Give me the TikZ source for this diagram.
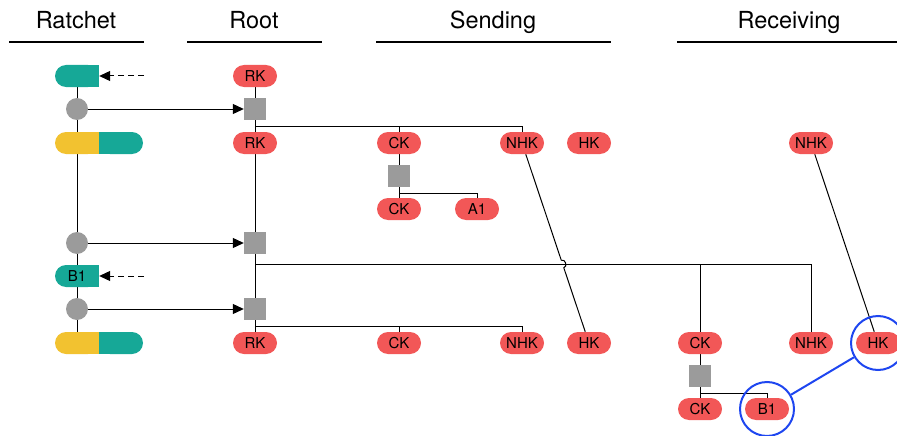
\documentclass[tikz,border=0pt]{standalone}
\usepackage{fontspec}
\setmainfont{TeX Gyre Heros}
\usetikzlibrary{arrows.meta,calc}
\pgfdeclarelayer{bg}
\pgfsetlayers{bg,main}
\definecolor{pillred}{HTML}{F25757}
\definecolor{tealc}{HTML}{16A897}
\definecolor{yellowc}{HTML}{F2C230}
\definecolor{grayc}{HTML}{9B9B9B}
\definecolor{bluec}{HTML}{1E46F0}
\begin{document}
\begin{tikzpicture}[x=1pt,y=-1pt,
  pill/.style={rectangle, rounded corners=11pt, minimum width=44pt, minimum height=22pt, inner sep=0pt, font=\fontsize{15}{15}\selectfont},
  key/.style={pill, fill=pillred},
  dot/.style={circle, fill=grayc, minimum size=22pt, inner sep=0pt},
  sqbox/.style={rectangle, fill=grayc, minimum size=22pt, inner sep=0pt},
  head/.style={font=\fontsize{23.5}{24}\selectfont, anchor=base, inner sep=0pt},
  rule/.style={line width=1.8pt},
  conn/.style={draw=black, line width=1pt},
  arr/.style={conn, -{Triangle[length=11pt,width=10pt]}},
  darr/.style={conn, dash pattern=on 6pt off 4pt, -{Triangle[length=11pt,width=10pt]}},
  bcirc/.style={circle, draw=bluec, line width=2pt, minimum size=54pt, inner sep=0pt},
  bline/.style={draw=bluec, line width=2pt}
]
\useasboundingbox (0,0) rectangle (897,436);

% headers
\node[head] (h1) at (76,29) {Ratchet};
\node[head] (h2) at (254,29) {Root};
\node[head] (h3) at (493,29) {Sending};
\node[head] (h4) at (789,29) {Receiving};
\draw[rule] (9,42) -- (144,42);
\draw[rule] (187,42) -- (322,42);
\draw[rule] (376,42) -- (611,42);
\draw[rule] (677,42) -- (897,42);

% ratchet column
\fill[tealc] (77,65) rectangle (99,87);
\node[pill, fill=tealc] (t1) at (77,76) {};
\node[dot] (c1) at (77,109) {};
\fill[yellowc] (77,132) rectangle (99,154);
\fill[tealc] (99,132) rectangle (121,154);
\node[pill, fill=yellowc] (y1) at (77,143) {};
\node[pill, fill=tealc] (y1b) at (121,143) {};
\node[dot] (c2) at (77,243) {};
\fill[tealc] (77,265) rectangle (99,287);
\node[pill, fill=tealc] (t2) at (77,276) {B1};
\node[dot] (c3) at (77,309) {};
\fill[yellowc] (77,332) rectangle (99,354);
\fill[tealc] (99,332) rectangle (121,354);
\node[pill, fill=yellowc] (y2) at (77,343) {};
\node[pill, fill=tealc] (y2b) at (121,343) {};
\coordinate (d1) at (144,76);
\coordinate (d2) at (144,276);

% root column
\node[key] (rk1) at (255,76) {RK};
\node[sqbox] (s1) at (255,109) {};
\node[key] (rk2) at (255,143) {RK};
\node[sqbox] (s2) at (255,243) {};
\node[sqbox] (s3) at (255,309) {};
\node[key] (rk3) at (255,343) {RK};

% sending
\node[key] (ck1) at (399,143) {CK};
\node[key] (nhk1) at (522,143) {NHK};
\node[key] (hk1) at (589,143) {HK};
\node[sqbox] (sq1) at (399,176) {};
\node[key] (ck2) at (399,209) {CK};
\node[key] (a1) at (477,209) {A1};
\node[key] (ck3) at (399,343) {CK};
\node[key] (nhk3) at (522,343) {NHK};
\node[key] (hk3) at (589,343) {HK};

% receiving
\node[key] (nhk2) at (811,143) {NHK};
\node[key] (ck4) at (700,343) {CK};
\node[key] (nhk4) at (811,343) {NHK};
\node[key] (hk4) at (878,343) {HK};
\node[sqbox] (sq2) at (700,376) {};
\node[key] (ck5) at (700,409) {CK};
\node[key] (b1r) at (767,409) {B1};

\coordinate (j1) at ([yshift=-6pt]s1.south);
\coordinate (j2) at ([yshift=-6pt]sq1.south);
\coordinate (j3) at ([yshift=-10pt]s2.south);
\coordinate (j4) at ([yshift=-6pt]sq2.south);
\coordinate (j5) at ([yshift=-6pt]s3.south);
\coordinate (p1) at ($(nhk1)!0.586!(hk3)$);
\coordinate (p2) at ($(nhk1)!0.624!(hk3)$);

\begin{pgfonlayer}{bg}
  \draw[conn] (t1) -- (y2);
  \draw[darr] (d1) -- (t1.east);
  \draw[darr] (d2) -- (t2.east);
  \draw[arr] (c1) -- (s1);
  \draw[arr] (c2) -- (s2);
  \draw[arr] (c3) -- (s3);
  \draw[conn] (rk1) -- (rk3);
  \draw[conn] (j1) -| (nhk1.north);
  \draw[conn] (j1 -| ck1.north) -- (ck1.north);
  \draw[conn] (ck1) -- (ck2);
  \draw[conn] (j2) -| (a1.north);
  \draw[conn] (j3) -| (nhk4.north);
  \draw[conn] (j3 -| ck4.north) -- (ck4.north);
  \draw[conn] (ck4) -- (ck5);
  \draw[conn] (j4) -| (b1r.north);
  \draw[conn] (j5) -| (nhk3.north);
  \draw[conn] (j5 -| ck3.north) -- (ck3.north);
  \draw[conn] (nhk1) -- (p1) to[bend left=90, looseness=1.4] (p2) -- (hk3);
  \draw[conn] (nhk2) -- (hk4);
\end{pgfonlayer}

\node[bcirc] (bc1) at (hk4) {};
\node[bcirc] (bc2) at (b1r) {};
\draw[bline] (bc2) -- (bc1);
\end{tikzpicture}
\end{document}
